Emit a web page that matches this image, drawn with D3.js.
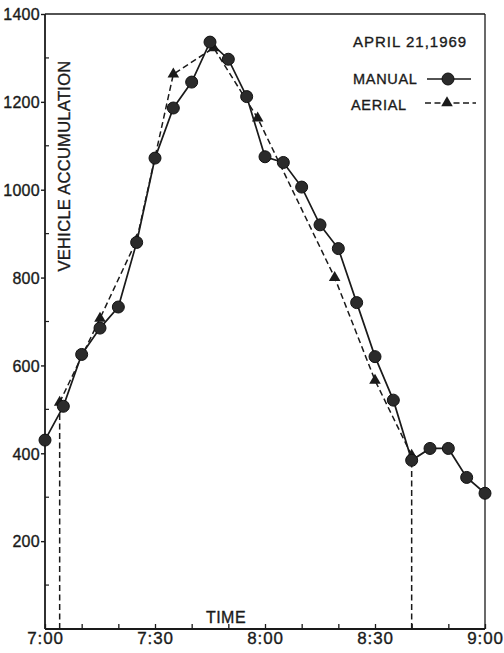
<!DOCTYPE html>
<html>
<head>
<meta charset="utf-8">
<script src="https://cdn.jsdelivr.net/npm/d3@7"></script>
<style>
  html, body { margin: 0; padding: 0; background: #fff; }
  svg { display: block; }
  text { font-family: "Liberation Sans", Arial, sans-serif; fill: #1a1a1a; stroke: #1a1a1a; stroke-width: 0.35px; }
</style>
</head>
<body>
<svg id="chart" width="504" height="653"></svg>
<script>
// Vehicle accumulation, April 21, 1969 — manual counts every 5 minutes
const manualTimes = ["7:00","7:05","7:10","7:15","7:20","7:25","7:30","7:35","7:40","7:45","7:50","7:55",
                     "8:00","8:05","8:10","8:15","8:20","8:25","8:30","8:35","8:40","8:45","8:50","8:55","9:00"];
const manualValues = [430, 507, 625, 685, 733, 880, 1072, 1186, 1245, 1336, 1297, 1212,
                      1075, 1062, 1006, 920, 866, 743, 620, 521, 384, 411, 411, 345, 309];

// Aerial photo counts
const aerialTimes = ["7:04","7:15","7:25","7:35","7:46","7:58","8:19","8:30","8:40"];
const aerialValues = [516, 707, 885, 1263, 1323, 1163, 800, 566, 395];

const yTicks = [200, 400, 600, 800, 1000, 1200, 1400];
const xLabelTimes = ["7:00","7:30","8:00","8:30","9:00"];
const legendTitle = "APRIL 21,1969";
const seriesNames = ["MANUAL", "AERIAL"];

const ink = "#1a1a1a";
const parse = d3.timeParse("%H:%M");
const fmt = d3.timeFormat("%-H:%M");

const svg = d3.select("#chart");
const plotLeft = 45, plotRight = 485, plotTop = 14, plotBottom = 629;

const x = d3.scaleTime().domain([parse("7:00"), parse("9:00")]).range([plotLeft, plotRight]);
const y = d3.scaleLinear().domain([0, 1400]).range([plotBottom, plotTop]);

const manual = manualTimes.map((t, i) => ({ t: parse(t), v: manualValues[i] }));
const aerial = aerialTimes.map((t, i) => ({ t: parse(t), v: aerialValues[i] }));

// Frame: top and right edges
svg.append("line").attr("x1", plotLeft).attr("x2", plotRight).attr("y1", y(1400)).attr("y2", y(1400))
  .attr("stroke", ink).attr("stroke-width", 1.6);
svg.append("line").attr("x1", plotRight).attr("x2", plotRight).attr("y1", y(1400)).attr("y2", plotBottom)
  .attr("stroke", ink).attr("stroke-width", 1.3);

// Y axis: labelled ticks every 200 outward, minor ticks every 100 inward
const yAxis = svg.append("g").attr("transform", `translate(${plotLeft},0)`)
  .call(d3.axisLeft(y).tickValues(yTicks).tickSize(4).tickPadding(1).tickFormat(d3.format("d")));
yAxis.select(".domain").attr("stroke", ink).attr("stroke-width", 1.8).attr("d", `M0,${y(1400)}V${plotBottom}`);
yAxis.selectAll(".tick line").attr("stroke", ink).attr("stroke-width", 1.4);
yAxis.selectAll(".tick text").attr("font-size", 16).attr("fill", ink).attr("dy", "0.36em")
  .attr("letter-spacing", 0.3)
  .style("font-family", "'Liberation Sans', Arial, sans-serif");
svg.append("g").selectAll("line").data(d3.range(100, 1400, 200)).join("line")
  .attr("x1", plotLeft).attr("x2", plotLeft + 4).attr("y1", d => y(d)).attr("y2", d => y(d))
  .attr("stroke", ink).attr("stroke-width", 1.2);

// X axis: ticks every 10 minutes pointing inward, labels on the half hour
const xTickVals = d3.timeMinute.every(10).range(parse("7:00"), d3.timeMinute.offset(parse("9:00"), 1));
const labelSet = new Set(xLabelTimes);
const xAxis = svg.append("g").attr("transform", `translate(0,${plotBottom})`)
  .call(d3.axisBottom(x).tickValues(xTickVals).tickSize(-5).tickPadding(5)
    .tickFormat(d => labelSet.has(fmt(d)) ? fmt(d) : ""));
xAxis.select(".domain").attr("stroke", ink).attr("stroke-width", 1.8).attr("d", `M${plotLeft},0H${plotRight}`);
xAxis.selectAll(".tick line").attr("stroke", ink).attr("stroke-width", 1.3);
xAxis.selectAll(".tick text").attr("font-size", 17).attr("fill", ink).attr("y", 3)
  .attr("letter-spacing", 0.8)
  .style("font-family", "'Liberation Sans', Arial, sans-serif");

// Axis titles
svg.append("text").attr("x", 226).attr("y", 623).attr("text-anchor", "middle")
  .attr("font-size", 16).attr("letter-spacing", 0.5).text("TIME");
svg.append("text").attr("transform", "translate(70,166) rotate(-90)").attr("text-anchor", "middle")
  .attr("font-size", 16.5).attr("letter-spacing", 0.3).text("VEHICLE ACCUMULATION");

// Vertical dashed markers at the start and end of the aerial survey
const bounds = [aerial[0], aerial[aerial.length - 1]];
svg.append("g").selectAll("line").data(bounds).join("line")
  .attr("x1", d => x(d.t)).attr("x2", d => x(d.t))
  .attr("y1", plotBottom).attr("y2", d => y(d.v))
  .attr("stroke", ink).attr("stroke-width", 1.5).attr("stroke-dasharray", "6,3.5");

const line = d3.line().x(d => x(d.t)).y(d => y(d.v));

// Aerial series: dashed line with triangles
svg.append("path").datum(aerial).attr("d", line).attr("fill", "none")
  .attr("stroke", ink).attr("stroke-width", 1.5).attr("stroke-dasharray", "6,3.5");
const tri = d3.symbol().type(d3.symbolTriangle).size(58);
svg.append("g").selectAll("path").data(aerial).join("path")
  .attr("d", tri).attr("transform", d => `translate(${x(d.t)},${y(d.v)})`)
  .attr("fill", ink);

// Manual series: solid line with filled circles
svg.append("path").datum(manual).attr("d", line).attr("fill", "none")
  .attr("stroke", ink).attr("stroke-width", 1.7);
svg.append("g").selectAll("circle").data(manual).join("circle")
  .attr("cx", d => x(d.t)).attr("cy", d => y(d.v)).attr("r", 6)
  .attr("fill", "#2b2b2b").attr("stroke", "#111").attr("stroke-width", 1);

// Legend
svg.append("text").attr("x", 353).attr("y", 47).attr("font-size", 15).attr("letter-spacing", 1)
  .text(legendTitle);
svg.append("text").attr("x", 353).attr("y", 84).attr("font-size", 14.5).attr("letter-spacing", 0.7)
  .text(seriesNames[0]);
svg.append("line").attr("x1", 427).attr("x2", 471).attr("y1", 79).attr("y2", 79)
  .attr("stroke", ink).attr("stroke-width", 1.7);
svg.append("circle").attr("cx", 448).attr("cy", 79).attr("r", 6).attr("fill", "#2b2b2b")
  .attr("stroke", "#111").attr("stroke-width", 1);
svg.append("text").attr("x", 351).attr("y", 110).attr("font-size", 14.5).attr("letter-spacing", 0.7)
  .text(seriesNames[1]);
svg.append("line").attr("x1", 425).attr("x2", 476).attr("y1", 103).attr("y2", 103)
  .attr("stroke", ink).attr("stroke-width", 1.5).attr("stroke-dasharray", "6,3.5");
svg.append("path").attr("d", tri).attr("transform", "translate(447,103)").attr("fill", ink);
</script>
</body>
</html>
